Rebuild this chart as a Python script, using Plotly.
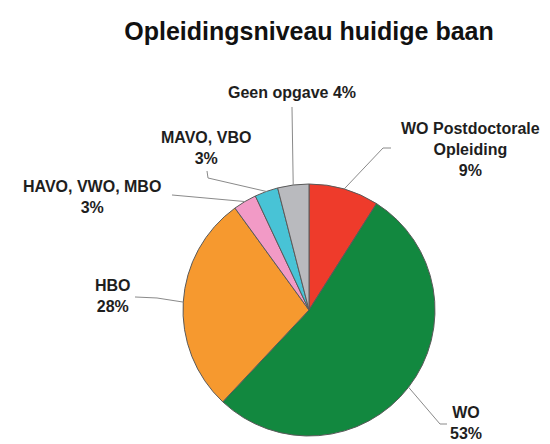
import math
import plotly.graph_objects as go

# ---- data ----
labels = ["WO Postdoctorale Opleiding", "WO", "HBO", "HAVO, VWO, MBO", "MAVO, VBO", "Geen opgave"]
values = [9, 53, 28, 3, 3, 4]
label_text = ["WO Postdoctorale<br>Opleiding<br>9%", "WO<br>53%", "HBO<br>28%",
              "HAVO, VWO, MBO<br>3%", "MAVO, VBO<br>3%", "Geen opgave 4%"]
colors = ["#EE3B2B", "#12883F", "#F6992F", "#F29AC6", "#48C3D6", "#B9BABE"]
title = "Opleidingsniveau huidige baan"

# ---- layout geometry (pixels, measured in the window; page body adds 8px offset) ----
W, H = 550, 444
OFF = 8
CX, CY, R = 309, 310, 126
label_pos = [(470, 149), (466, 423), (113, 296), (92, 197), (206, 148), (292, 93)]
leader_pts = [
    [(383, 148), (391, 148)],
    [(440, 424), (447, 424)],
    [(157, 298), (135, 297)],
    [(172, 195)],
    [(208, 178), (207, 171)],
    [(292, 107)],
]


def px(x, y):
    return (x - OFF) / W, 1 - (y - OFF) / H


d0 = px(CX - R, CY + R)
d1 = px(CX + R, CY - R)
fig = go.Figure(go.Pie(
    labels=labels, values=values, sort=False, direction="clockwise", rotation=0,
    marker=dict(colors=colors, line=dict(color="#5a5a5a", width=1)),
    textinfo="none", hoverinfo="label+percent", showlegend=False,
    domain=dict(x=[d0[0], d1[0]], y=[d0[1], d1[1]]),
))

total = sum(values)
cum = 0
shapes = []
annotations = []
for i, v in enumerate(values):
    mid = (cum + v / 2) / total * 2 * math.pi
    cum += v
    ex, ey = CX + R * math.sin(mid), CY - R * math.cos(mid)
    pts = [(ex, ey)] + leader_pts[i]
    path = "M " + " L ".join(f"{px(x, y)[0]:.5f},{px(x, y)[1]:.5f}" for x, y in pts)
    shapes.append(dict(type="path", path=path, xref="paper", yref="paper",
                       line=dict(color="#8a8a8a", width=1)))
    lx, ly = px(*label_pos[i])
    annotations.append(dict(x=lx, y=ly, xref="paper", yref="paper", text=label_text[i],
                            showarrow=False, xanchor="center", yanchor="middle", align="center",
                            font=dict(family="Liberation Sans, Arial", size=16, color="#1e1e1e",
                                      weight="bold")))

tx, ty = px(309, 31)
fig.update_layout(
    width=W, height=H, margin=dict(l=0, r=0, t=0, b=0),
    paper_bgcolor="white", plot_bgcolor="white",
    title=dict(text=title, x=tx, y=ty, xanchor="center", yanchor="middle",
               font=dict(family="Liberation Sans, Arial", size=25, color="#111111", weight="bold")),
    shapes=shapes, annotations=annotations,
)

fig.write_html("out.html")
